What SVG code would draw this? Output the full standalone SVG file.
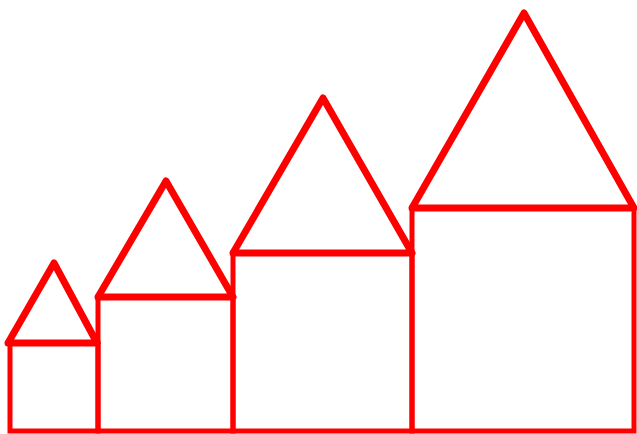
<svg xmlns="http://www.w3.org/2000/svg" width="637" height="434" viewBox="0 0 637 434">
<style>
.wall{fill:none;stroke:#ff0000;stroke-width:5;stroke-linejoin:miter}
.roof{fill:none;stroke:#ff0000;stroke-width:7;stroke-linejoin:round;stroke-linecap:round}
</style>
<rect width="637" height="434" fill="#ffffff"/>
<g id="house1">
<rect class="wall" x="10" y="343" width="88" height="88"/>
<polygon class="roof" points="8,343 54,263 97,343"/>
</g>
<g id="house2">
<rect class="wall" x="98" y="297" width="135" height="134"/>
<polygon class="roof" points="98,297 166,181 233,297"/>
</g>
<g id="house3">
<rect class="wall" x="233" y="253" width="179" height="178"/>
<polygon class="roof" points="233,253 323,98 412,253"/>
</g>
<g id="house4">
<rect class="wall" x="412" y="208" width="222" height="223"/>
<polygon class="roof" points="412,208 524,13 634,208"/>
</g>
</svg>
